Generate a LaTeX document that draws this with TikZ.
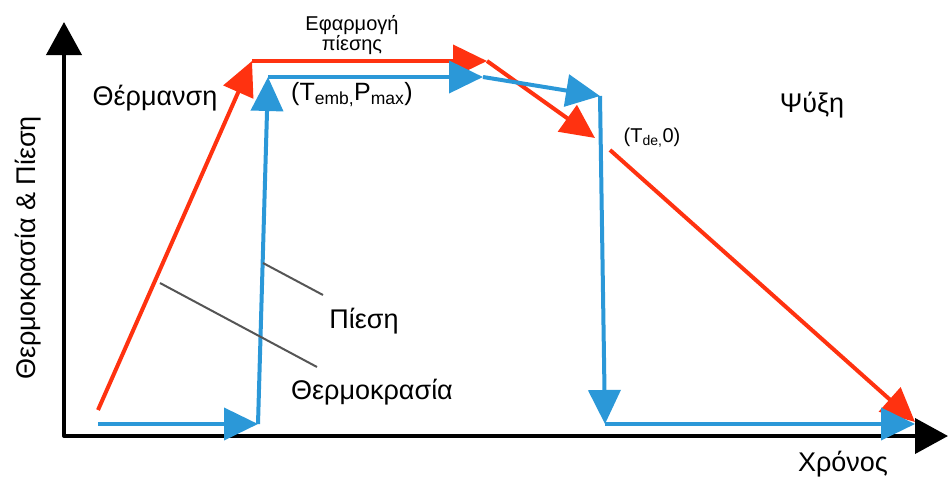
\documentclass[tikz,border=0pt]{standalone}
\usepackage{fontspec}
\setmainfont{Liberation Sans}
\usetikzlibrary{arrows.meta}
\definecolor{myred}{HTML}{FF3210}
\definecolor{myblue}{HTML}{2B98D8}
\definecolor{leadgray}{HTML}{555555}
\begin{document}
\begin{tikzpicture}[x=1pt,y=-1pt,
  tipA/.tip={Triangle[length=34pt,width=32pt]},
  redline/.style={draw=myred,line width=4pt,-tipA},
  blueline/.style={draw=myblue,line width=4pt,-tipA},
  axisline/.style={draw=black,line width=4pt,line join=round,{Triangle[length=33pt,width=35pt]}-{Triangle[length=33pt,width=35pt]}},
  leader/.style={draw=leadgray,line width=2pt},
  lab/.style={inner sep=0pt,font=\fontsize{27}{30}\selectfont},
  midlab/.style={inner sep=0pt,font=\fontsize{25}{28}\selectfont},
  smalllab/.style={inner sep=0pt,font=\fontsize{20}{18}\selectfont,align=center}]
\useasboundingbox (0,0) rectangle (949,477);
% axes
\coordinate (ytip) at (64,22);
\coordinate (orig) at (64,436);
\coordinate (xtip) at (948,436);
\draw[axisline] (ytip) -- (orig) -- (xtip);
% red temperature path
\coordinate (R0) at (98,410);
\coordinate (R1) at (252,61);
\coordinate (R2) at (487,61);
\coordinate (R3) at (595,138);
\coordinate (R4) at (610,150);
\coordinate (R5) at (915,422);
\draw[redline] (R0) -- (R1);
\draw[redline] (R1) -- (R2);
\draw[redline] (R2) -- (R3);
\draw[redline] (R4) -- (R5);
% blue pressure path
\coordinate (B0) at (98,424);
\coordinate (B1) at (258,424);
\coordinate (B2) at (268,77);
\coordinate (B3) at (483,77);
\coordinate (B4) at (600,96);
\coordinate (B5) at (605,424);
\coordinate (B6) at (915,424);
\draw[blueline] (B0) -- (B1);
\draw[blueline] (B1) -- (B2);
\draw[blueline] (B2) -- (B3);
\draw[blueline] (B3) -- (B4);
\draw[blueline] (B4) -- (B5);
\draw[blueline] (B5) -- (B6);
% leaders
\coordinate (L1a) at (263,263);
\coordinate (L1b) at (323,295);
\coordinate (L2a) at (160,283);
\coordinate (L2b) at (317,367);
\draw[leader] (L1a) -- (L1b);
\draw[leader] (L2a) -- (L2b);
% labels
\node[lab] (heat) at (155,98) {Θέρμανση};
\node[smalllab] (apply) at (352,35) {Εφαρμογή\\πίεσης};
\node[midlab] (tp) at (352,95) {(T\textsubscript{emb,}P\textsubscript{max})};
\node[lab] (cool) at (812,105) {Ψύξη};
\node[smalllab] (tde) at (652,138) {(T\textsubscript{de,}0)};
\node[lab] (press) at (364,321) {Πίεση};
\node[lab] (temp) at (372,392) {Θερμοκρασία};
\node[lab] (time) at (843,464) {Χρόνος};
\node[lab,rotate=90] (ylab) at (28,248) {Θερμοκρασία \& Πίεση};
\end{tikzpicture}
\end{document}
